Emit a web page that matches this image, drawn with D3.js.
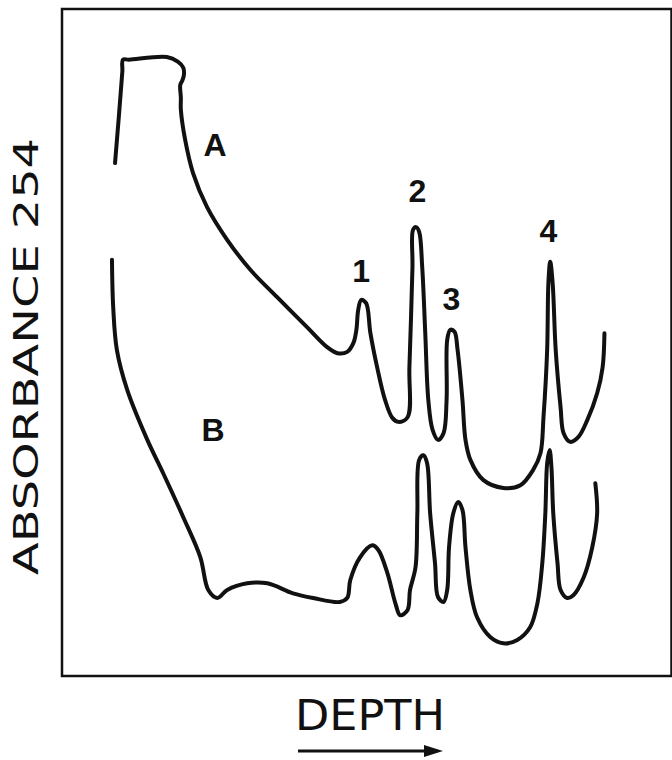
<!DOCTYPE html>
<html>
<head>
<meta charset="utf-8">
<script src="https://cdn.jsdelivr.net/npm/d3@7"></script>
<style>
  html, body { margin: 0; padding: 0; background: #fff; }
  svg { display: block; }
</style>
</head>
<body>
<div id="chart"></div>
<script>
// trace A (upper) : depth / absorbance, arbitrary units
const depthA = [8.7, 9.9, 10.0, 11.0, 17.2, 19.0, 19.9, 20.0, 19.7, 19.4, 19.5, 19.5, 20.2, 21.5, 23.8, 27.1, 30.9, 35.3, 40.2, 43.5, 45.2, 46.8, 47.8, 48.3, 48.6, 49.1, 49.9, 50.6, 51.7, 53.0, 54.2, 55.2, 56.7, 57.0, 57.5, 57.6, 58.1, 58.6, 59.1, 59.6, 60.1, 60.8, 61.7, 62.6, 63.1, 63.2, 63.7, 64.4, 64.9, 65.7, 66.2, 67.0, 69.1, 72.4, 75.2, 77.3, 78.5, 79.0, 79.6, 79.8, 80.1, 80.5, 81.0, 81.8, 82.3, 83.4, 84.7, 86.2, 87.8, 88.7, 89.0]
const absA = [76.9, 90.6, 92.4, 92.4, 92.8, 92.1, 91.2, 90.1, 89.2, 88.6, 86.7, 84.9, 80.4, 75.4, 70.3, 65.4, 60.9, 56.8, 52.3, 49.3, 48.4, 48.6, 49.9, 51.9, 54.9, 56.4, 55.9, 51.4, 46.3, 41.4, 38.7, 38.1, 38.8, 46.3, 61.3, 66.9, 67.3, 66.6, 61.3, 51.4, 41.4, 36.9, 35.4, 36.4, 41.4, 50.4, 51.9, 51.6, 48.9, 41.4, 35.4, 32.4, 29.4, 28.2, 28.6, 30.9, 33.4, 38.8, 48.9, 58.9, 62.1, 58.9, 48.9, 40.3, 36.4, 35.1, 35.8, 38.4, 42.4, 46.3, 51.4]

// trace B (lower)
const depthB = [8.2, 8.4, 9.0, 10.7, 14.0, 16.6, 19.9, 22.7, 24.0, 25.5, 27.1, 30.4, 33.7, 37.9, 41.2, 45.6, 46.8, 47.3, 48.9, 50.9, 51.9, 53.4, 54.7, 55.5, 56.7, 57.1, 58.0, 58.3, 58.6, 59.3, 59.9, 60.4, 61.2, 61.7, 62.6, 63.2, 63.5, 64.2, 65.0, 65.7, 66.2, 67.0, 68.1, 70.3, 72.4, 74.7, 76.8, 78.0, 78.8, 79.3, 79.6, 80.0, 80.3, 80.6, 81.3, 81.8, 82.9, 83.9, 85.6, 87.0, 87.8, 87.5]
const absB = [62.4, 55.3, 48.9, 42.9, 35.4, 30.4, 23.8, 17.8, 12.9, 11.7, 12.9, 13.9, 13.9, 12.4, 11.7, 11.1, 11.7, 14.4, 17.8, 19.6, 18.9, 15.4, 10.9, 9.1, 9.9, 12.9, 16.3, 24.4, 32.4, 33.1, 31.9, 24.4, 16.9, 11.8, 11.1, 12.9, 19.3, 24.4, 26.1, 24.9, 19.3, 12.9, 8.8, 5.8, 4.9, 5.4, 7.3, 10.9, 16.9, 24.4, 31.9, 33.9, 31.3, 24.4, 16.9, 12.9, 11.7, 12.1, 14.8, 19.3, 24.4, 28.9]

// curve and peak labels
const labelText = ["A", "B", "1", "2", "3", "4"]
const labelDepth = [25.1, 24.8, 49.1, 58.3, 63.9, 79.8]
const labelAbs = [78.0, 35.2, 59.1, 71.1, 54.9, 65.1]

const width = 672
const height = 760
const margin = { top: 9, right: 0.5, bottom: 84, left: 62 }

const svg = d3.select("#chart").append("svg")
	.attr("width", width)
	.attr("height", height)

const x = d3.scaleLinear().domain([0, 100]).range([margin.left, width - margin.right])
const y = d3.scaleLinear().domain([0, 100]).range([height - margin.bottom, margin.top])

// frame
svg.append("rect")
	.attr("x", x(0))
	.attr("y", y(100))
	.attr("width", x(100) - x(0))
	.attr("height", y(0) - y(100))
	.attr("fill", "none")
	.attr("stroke", "#111")
	.attr("stroke-width", 2.5)

const line = d3.line()
	.x(d => x(d[0]))
	.y(d => y(d[1]))
	.curve(d3.curveCatmullRom.alpha(0.5))

const traces = [d3.zip(depthA, absA), d3.zip(depthB, absB)]

svg.selectAll("path.trace")
	.data(traces)
	.join("path")
	.attr("class", "trace")
	.attr("d", line)
	.attr("fill", "none")
	.attr("stroke", "#111")
	.attr("stroke-width", 4)
	.attr("stroke-linejoin", "round")
	.attr("stroke-linecap", "round")

svg.selectAll("text.lbl")
	.data(labelText)
	.join("text")
	.attr("class", "lbl")
	.attr("x", (d, i) => x(labelDepth[i]))
	.attr("y", (d, i) => y(labelAbs[i]))
	.attr("text-anchor", "middle")
	.attr("font-family", "Liberation Sans, Arial, sans-serif")
	.attr("font-weight", "bold")
	.attr("font-size", 32)
	.attr("fill", "#111")
	.text(d => d)

// y axis title
const yMid = (y(0) + y(100)) / 2 + 14
svg.append("text")
	.attr("transform", `translate(38, ${yMid}) rotate(-90)`)
	.attr("text-anchor", "middle")
	.attr("font-family", "DejaVu Sans, sans-serif")
	.attr("font-size", 34)
	.attr("fill", "#111")
	.attr("textLength", 437)
	.attr("lengthAdjust", "spacingAndGlyphs")
	.text("ABSORBANCE 254")

// x axis title + arrow
const xMid = 370
svg.append("text")
	.attr("x", xMid)
	.attr("y", 730)
	.attr("text-anchor", "middle")
	.attr("font-family", "DejaVu Sans, sans-serif")
	.attr("font-size", 42)
	.attr("fill", "#111")
	.attr("textLength", 150)
	.attr("lengthAdjust", "spacingAndGlyphs")
	.text("DEPTH")

svg.append("line")
	.attr("x1", xMid - 72).attr("x2", xMid + 58)
	.attr("y1", 751).attr("y2", 751)
	.attr("stroke", "#111")
	.attr("stroke-width", 3)

svg.append("path")
	.attr("d", `M${xMid + 54},${751 - 6} L${xMid + 73},751 L${xMid + 54},${751 + 6} Z`)
	.attr("fill", "#111")
</script>
</body>
</html>
